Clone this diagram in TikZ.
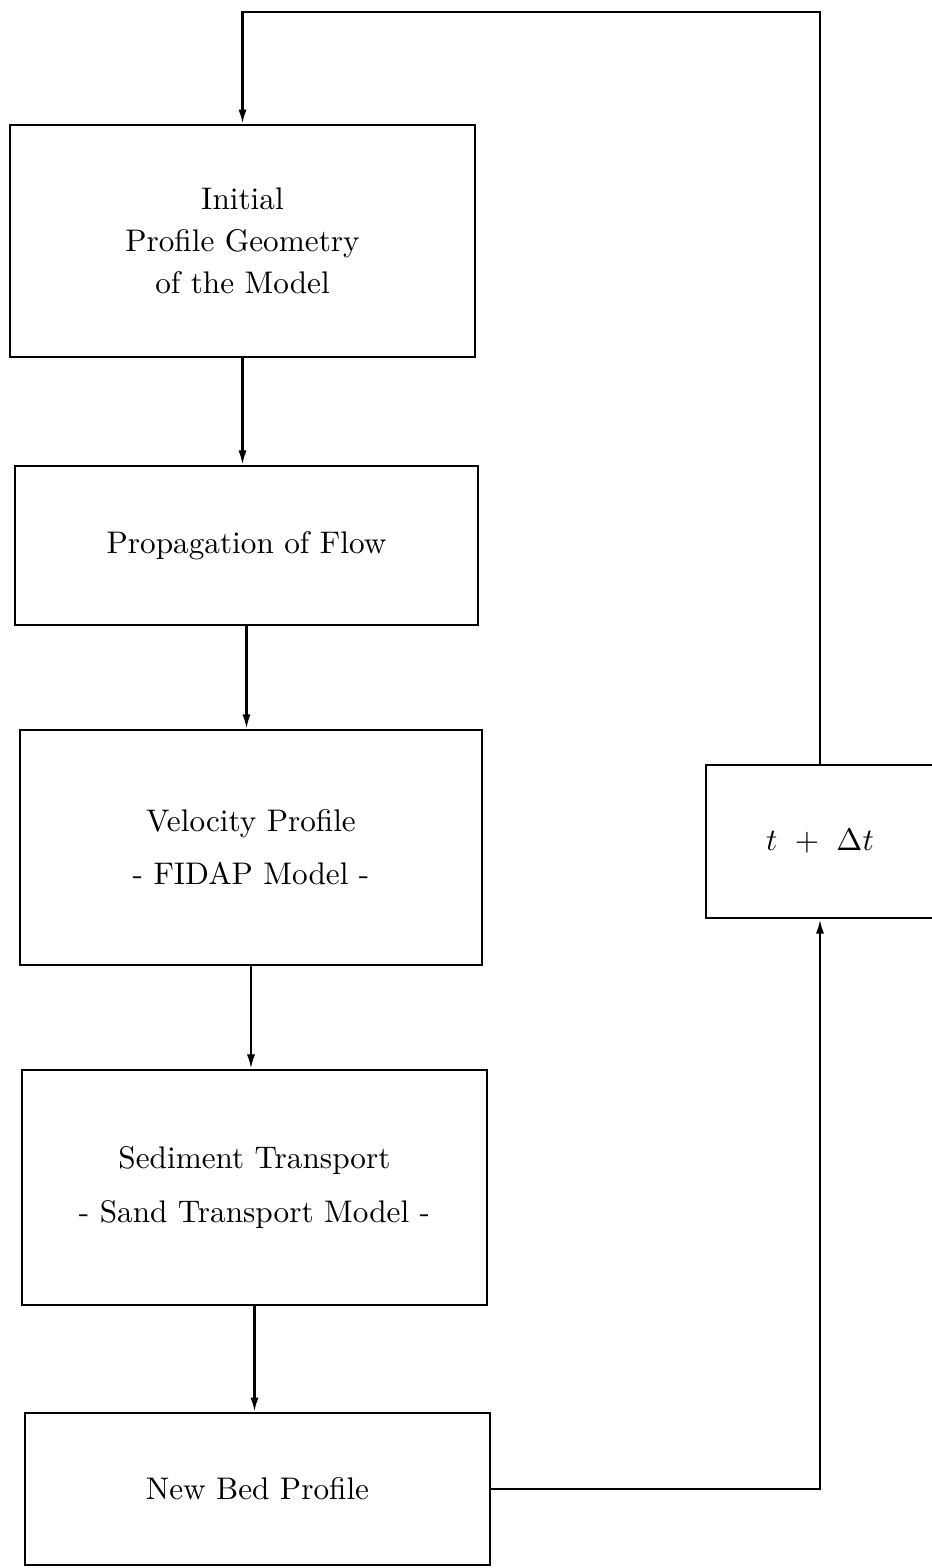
\documentclass[tikz,border=0pt]{standalone}
\usetikzlibrary{arrows.meta}
\begin{document}
\begin{tikzpicture}[x=0.32pt,y=-0.32pt,
  box/.style={draw,line width=0.75pt,inner sep=0pt,align=center,font=\normalsize},
  arr/.style={line width=0.75pt,-{Latex[length=4.6pt,width=2.6pt]}},
  conn/.style={line width=0.75pt}]
\useasboundingbox (0,0) rectangle (932,1568);
\node[box,minimum width=148.8pt,minimum height=74.2pt] (b1) at (242.5,241)
  {Initial\\[1.4pt] Profile Geometry\\[1.4pt] of the Model};
\node[box,minimum width=148.2pt,minimum height=50.9pt] (b2) at (246.5,545.5)
  {Propagation of Flow};
\node[box,minimum width=147.8pt,minimum height=75.2pt] (b3) at (251,847.5)
  {Velocity Profile\\[5pt] - FIDAP Model -};
\node[box,minimum width=148.8pt,minimum height=75.2pt] (b4) at (254.5,1187.5)
  {Sediment Transport\\[5pt] - Sand Transport Model -};
\node[box,minimum width=148.8pt,minimum height=48.6pt] (b5) at (257.5,1489)
  {New Bed Profile};
\node[box,minimum width=73pt,minimum height=49pt] (t) at (820,841.5)
  {$t\ +\ \Delta t$};
\coordinate (top) at (0,12);
\draw[arr] (b1.south) -- (b1.south |- b2.north);
\draw[arr] (b2.south) -- (b2.south |- b3.north);
\draw[arr] (b3.south) -- (b3.south |- b4.north);
\draw[arr] (b4.south) -- (b4.south |- b5.north);
\draw[arr] (b5.east) -| (t.south);
\draw[arr] (t.north) -- (t.north |- top) -| (b1.north);
\end{tikzpicture}
\end{document}
